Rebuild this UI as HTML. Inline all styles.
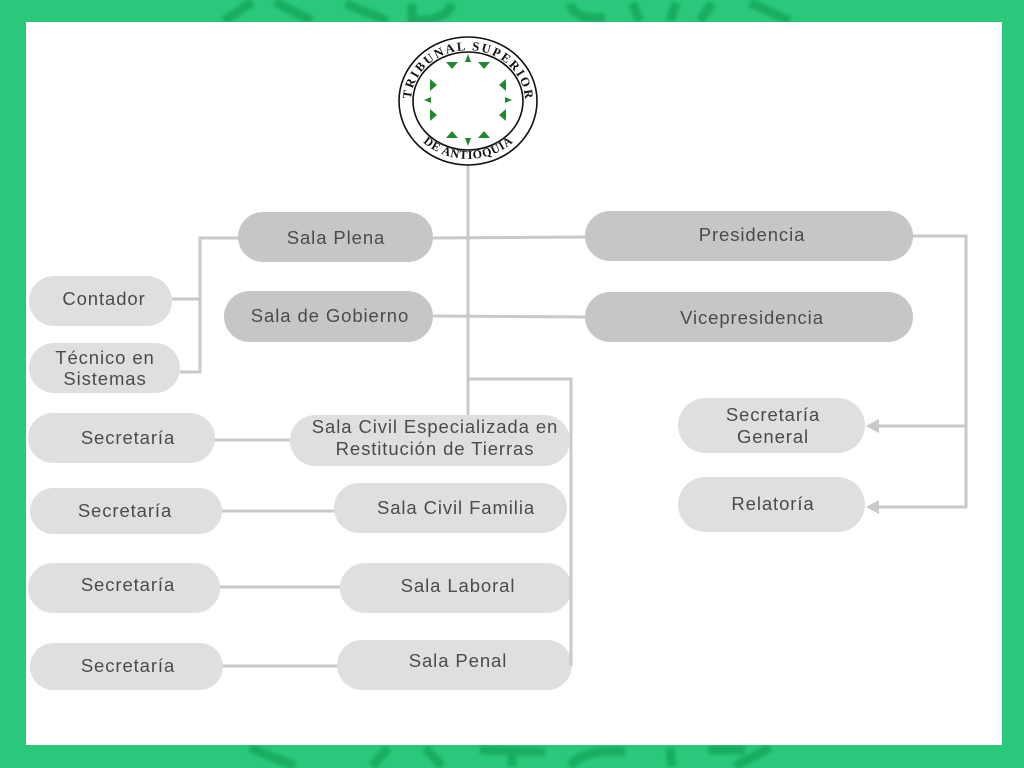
<!DOCTYPE html>
<html>
<head>
<meta charset="utf-8">
<style>
  html,body{margin:0;padding:0;width:1024px;height:768px;overflow:hidden;background:#2bc87b;}
  svg{display:block;}
  .t{font-family:"Liberation Sans",Arial,sans-serif;font-size:18.5px;fill:#4b4b4b;letter-spacing:0.9px;text-anchor:middle;}
  .ln{stroke:#c9c9c9;stroke-width:3;fill:none;}
  .dk{fill:#c6c6c6;}
  .lt{fill:#dfdfdf;}
</style>
</head>
<body>
<svg width="1024" height="768" viewBox="0 0 1024 768" xmlns="http://www.w3.org/2000/svg">
  <defs>
    <filter id="soft" x="-10%" y="-50%" width="120%" height="200%"><feGaussianBlur stdDeviation="1.5"/></filter>
    <path id="arcTop" d="M 412.3,112 A 57 51 0 1 1 523.7,112"/>
    <path id="arcBot" d="M 406.2,116 A 64 58 0 0 0 529.8,116"/>
  </defs>
  <!-- green background with faint watermark strokes -->
  <rect x="0" y="0" width="1024" height="768" fill="#2bc87b"/>
  <g stroke="#17a85c" stroke-width="9" fill="none" opacity="0.85" filter="url(#soft)" stroke-linecap="butt">
    <line x1="224" y1="21" x2="252" y2="2"/>
    <line x1="275" y1="2" x2="312" y2="21"/>
    <line x1="346" y1="4" x2="388" y2="21"/>
    <path d="M 412,4 L 412,20 Q 445,22 452,4"/>
    <path d="M 570,4 Q 575,20 605,18"/>
    <line x1="632" y1="3" x2="640" y2="21"/>
    <line x1="676" y1="3" x2="670" y2="21"/>
    <line x1="712" y1="3" x2="700" y2="21"/>
    <line x1="750" y1="3" x2="790" y2="21"/>
    <line x1="250" y1="748" x2="295" y2="766"/>
    <line x1="388" y1="748" x2="372" y2="766"/>
    <line x1="425" y1="748" x2="442" y2="766"/>
    <line x1="480" y1="750" x2="545" y2="752"/>
    <line x1="512" y1="750" x2="512" y2="766"/>
    <path d="M 570,766 Q 585,748 625,752"/>
    <line x1="670" y1="748" x2="672" y2="766"/>
    <line x1="708" y1="750" x2="745" y2="750"/>
    <line x1="770" y1="748" x2="735" y2="766"/>
  </g>

  <!-- white panel -->
  <rect x="26" y="22" width="976" height="723" fill="#ffffff"/>

  <!-- connectors -->
  <g class="ln">
    <line x1="468" y1="160" x2="468" y2="416"/>
    <line x1="433" y1="238" x2="586" y2="237"/>
    <line x1="433" y1="316" x2="586" y2="317"/>
    <polyline points="468,379 571,379 571,666"/>
    <polyline points="238,238 200,238 200,372 180,372"/>
    <line x1="172" y1="299" x2="200" y2="299"/>
    <line x1="214" y1="440" x2="291" y2="440"/>
    <line x1="221" y1="511" x2="335" y2="511"/>
    <line x1="219" y1="587" x2="341" y2="587"/>
    <line x1="222" y1="666" x2="338" y2="666"/>
    <polyline points="912,236 966,236 966,507 878,507"/>
    <line x1="966" y1="426" x2="878" y2="426"/>
  </g>
  <polygon points="866,426 879,419 879,433" fill="#c9c9c9"/>
  <polygon points="866,507 879,500 879,514" fill="#c9c9c9"/>

  <!-- logo -->
  <g>
    <ellipse cx="468" cy="101" rx="69" ry="64" fill="#fff" stroke="#111" stroke-width="1.6"/>
    <ellipse cx="468" cy="101" rx="55" ry="49" fill="#fff" stroke="#111" stroke-width="1.6"/>
    <text font-family="Liberation Serif, serif" font-size="12.5" font-weight="bold" fill="#111">
      <textPath href="#arcTop" startOffset="50%" text-anchor="middle" textLength="165" lengthAdjust="spacing">TRIBUNAL  SUPERIOR</textPath>
    </text>
    <text font-family="Liberation Serif, serif" font-size="12" font-weight="bold" fill="#111">
      <textPath href="#arcBot" startOffset="50%" text-anchor="middle" textLength="98" lengthAdjust="spacing">DE ANTIOQUIA</textPath>
    </text>
    <g fill="#1f8a2e">
      <polygon points="465,62 471,62 468,54"/>
      <polygon points="446,62 458,62 452,69"/>
      <polygon points="478,62 490,62 484,69"/>
      <polygon points="465,138 471,138 468,146"/>
      <polygon points="446,138 458,138 452,131"/>
      <polygon points="478,138 490,138 484,131"/>
      <polygon points="430,79 430,91 437,85"/>
      <polygon points="430,109 430,121 437,115"/>
      <polygon points="424,100 431,97 431,103"/>
      <polygon points="506,79 506,91 499,85"/>
      <polygon points="506,109 506,121 499,115"/>
      <polygon points="512,100 505,97 505,103"/>
    </g>
  </g>

  <!-- dark pills -->
  <rect class="dk" x="238" y="212" width="195" height="50" rx="25"/>
  <rect class="dk" x="224" y="291" width="209" height="51" rx="25.5"/>
  <rect class="dk" x="585" y="211" width="328" height="50" rx="25"/>
  <rect class="dk" x="585" y="292" width="328" height="50" rx="25"/>

  <!-- light pills -->
  <rect class="lt" x="29" y="276" width="143" height="50" rx="25"/>
  <rect class="lt" x="29" y="343" width="151" height="50" rx="25"/>
  <rect class="lt" x="28" y="413" width="187" height="50" rx="25"/>
  <rect class="lt" x="290" y="415" width="280" height="51" rx="25.5"/>
  <rect class="lt" x="30" y="488" width="192" height="46" rx="23"/>
  <rect class="lt" x="334" y="483" width="233" height="50" rx="25"/>
  <rect class="lt" x="28" y="563" width="192" height="50" rx="25"/>
  <rect class="lt" x="340" y="563" width="232" height="50" rx="25"/>
  <rect class="lt" x="30" y="643" width="193" height="47" rx="23.5"/>
  <rect class="lt" x="337" y="640" width="235" height="50" rx="25"/>
  <rect class="lt" x="678" y="398" width="187" height="55" rx="27.5"/>
  <rect class="lt" x="678" y="477" width="187" height="55" rx="27.5"/>

  <line class="ln" x1="571" y1="466" x2="571" y2="666"/>

  <!-- labels -->
  <text class="t" x="336" y="244">Sala Plena</text>
  <text class="t" x="330" y="322">Sala de Gobierno</text>
  <text class="t" x="752" y="241">Presidencia</text>
  <text class="t" x="752" y="324">Vicepresidencia</text>
  <text class="t" x="104" y="305">Contador</text>
  <text class="t" x="105" y="364">Técnico en</text>
  <text class="t" x="105" y="385">Sistemas</text>
  <text class="t" x="128" y="444">Secretaría</text>
  <text class="t" x="435" y="433">Sala Civil Especializada en</text>
  <text class="t" x="435" y="455">Restitución de Tierras</text>
  <text class="t" x="125" y="517">Secretaría</text>
  <text class="t" x="456" y="514">Sala Civil Familia</text>
  <text class="t" x="128" y="591">Secretaría</text>
  <text class="t" x="458" y="592">Sala Laboral</text>
  <text class="t" x="128" y="672">Secretaría</text>
  <text class="t" x="458" y="667">Sala Penal</text>
  <text class="t" x="773" y="421">Secretaría</text>
  <text class="t" x="773" y="443">General</text>
  <text class="t" x="773" y="510">Relatoría</text>
</svg>
</body>
</html>
